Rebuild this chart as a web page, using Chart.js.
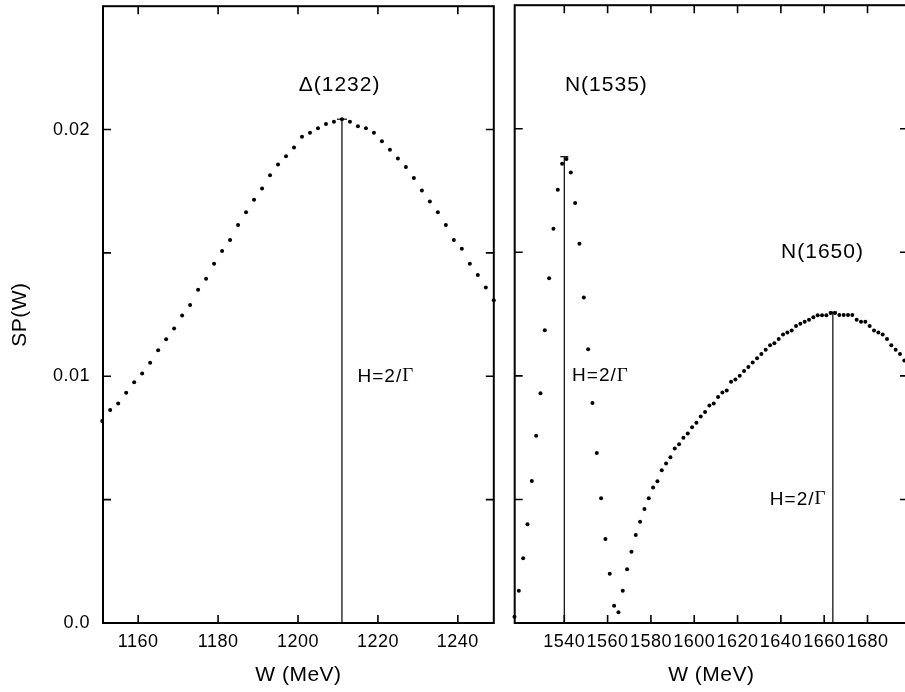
<!DOCTYPE html>
<html><head><meta charset="utf-8">
<script src="https://cdn.jsdelivr.net/npm/chart.js@4/dist/chart.umd.min.js"></script>
<style>
html,body{margin:0;padding:0;background:#fff;overflow:hidden;width:905px;height:692px;}
#lw{position:absolute;left:0;top:0;width:500px;height:692px;}
#rw{position:absolute;left:504px;top:0;width:410px;height:692px;}
</style></head><body>
<div id="lw"><canvas id="left" width="500" height="692"></canvas></div>
<div id="rw"><canvas id="right" width="410" height="692"></canvas></div>
<script>
// ---- data ----
const deltaW = [1151,1153,1155,1157,1159,1161,1163,1165,1167,1169,1171,1173,1175,1177,1179,1181,1183,1185,1187,1189,
  1191,1193,1195,1197,1199,1201,1203,1205,1207,1209,1211,1213,1215,1217,1219,1221,1223,1225,1227,1229,
  1231,1233,1235,1237,1239,1241,1243,1245,1247,1249];
const deltaSP = [0.00819,0.00863,0.00890,0.00933,0.00976,0.01011,0.01055,0.01106,0.01150,0.01194,0.01246,0.01289,0.01351,0.01395,0.01456,0.01508,0.01552,0.01613,0.01665,0.01716,
  0.01761,0.01815,0.01858,0.01892,0.01927,0.01971,0.01987,0.02005,0.02023,0.02032,0.02042,0.02032,0.02013,0.02005,0.01987,0.01953,0.01918,0.01883,0.01848,0.01804,
  0.01753,0.01708,0.01665,0.01613,0.01552,0.01517,0.01456,0.01411,0.01360,0.01308];
const nucW = [1517,1519,1521,1523,1525,1527,1529,1531,1533,1535,1537,1539,1541,1543,1545,1547,1549,1551,1553,1555,
  1557,1559,1561,1563,1565,1567,1569,1571,1573,1575,1577,1579,1581,1583,1585,1587,1589,1591,1593,1595,
  1597,1599,1601,1603,1605,1607,1609,1611,1613,1615,1617,1619,1621,1623,1625,1627,1629,1631,1633,1635,
  1637,1639,1641,1643,1645,1647,1649,1651,1653,1655,1657,1659,1661,1663,1665,1667,1669,1671,1673,1675,
  1677,1679,1681,1683,1685,1687,1689,1691,1693,1695,1697];
const nucSP = [0.00025,0.00130,0.00262,0.00400,0.00575,0.00758,0.00930,0.01185,0.01395,0.01595,0.01753,0.01858,0.01878,0.01823,0.01700,0.01535,0.01317,0.01108,0.00890,0.00688,
  0.00505,0.00340,0.00199,0.00070,0.00043,0.00130,0.00218,0.00288,0.00356,0.00410,0.00461,0.00505,0.00548,0.00574,0.00618,0.00645,0.00671,0.00706,0.00723,0.00750,
  0.00767,0.00792,0.00810,0.00836,0.00854,0.00880,0.00888,0.00915,0.00933,0.00941,0.00976,0.00985,0.01001,0.01020,0.01036,0.01054,0.01071,0.01089,0.01106,0.01124,
  0.01132,0.01149,0.01167,0.01176,0.01184,0.01202,0.01211,0.01219,0.01227,0.01237,0.01245,0.01245,0.01245,0.01254,0.01254,0.01246,0.01246,0.01246,0.01246,0.01227,
  0.01219,0.01219,0.01202,0.01184,0.01176,0.01167,0.01149,0.01124,0.01106,0.01089,0.01062];
const leftPoleW = [1211];
const leftPoleSP = [0.02042];
const rightPoleW = [1540, 1664];
const rightPoleSP = [0.01887, 0.01258];
const yTickValues = [0, 0.005, 0.01, 0.015, 0.02];
const yTickLabels = ['0.0', '', '0.01', '', '0.02'];
const leftXTicks = [1160, 1180, 1200, 1220, 1240];
const rightXTicks = [1540, 1560, 1580, 1600, 1620, 1640, 1660, 1680];
const leftNotes = ['Δ(1232)', 'H=2/Γ'];
const rightNotes = ['N(1535)', 'N(1650)', 'H=2/Γ', 'H=2/Γ'];
const xTitle = 'W (MeV)';
const yTitle = 'SP(W)';

// ---- layout / style ----
const SANS = '"Liberation Sans", Arial, Helvetica, sans-serif';
const SERIF = '"Liberation Serif", "Times New Roman", serif';
const leftNoteAnchors = [
  {x: 1210.4, y: 0.0218, align: 'center', size: 21},
  {x: 1214.9, y: 0.0100, align: 'left', size: 19}
];
const rightNoteAnchors = [
  {x: 1540.3, y: 0.02177, align: 'left', size: 21},
  {x: 1640.1, y: 0.0150, align: 'left', size: 21},
  {x: 1543.6, y: 0.0100, align: 'left', size: 19},
  {x: 1634.9, y: 0.0050, align: 'left', size: 19}
];

const spacing = {
  id: 'spacing',
  beforeDraw(chart) { chart.ctx.letterSpacing = '0.5px'; }
};

const frame = {
  id: 'frame',
  afterDraw(chart) {
    const {ctx, chartArea: {left, right, top, bottom}, scales: {x, y}} = chart;
    ctx.save();
    ctx.strokeStyle = '#000';
    ctx.lineWidth = 2;
    ctx.strokeRect(left, top, right - left, bottom - top);
    ctx.lineWidth = 1.6;
    ctx.beginPath();
    x.ticks.forEach(t => {
      const px = x.getPixelForValue(t.value);
      ctx.moveTo(px, bottom); ctx.lineTo(px, bottom - 8);
      ctx.moveTo(px, top); ctx.lineTo(px, top + 8);
    });
    y.ticks.forEach(t => {
      const py = y.getPixelForValue(t.value);
      ctx.moveTo(left, py); ctx.lineTo(left + 8, py);
      ctx.moveTo(right, py); ctx.lineTo(right - 8, py);
    });
    ctx.stroke();
    ctx.restore();
  }
};

const notes = {
  id: 'notes',
  afterDatasetsDraw(chart, args, opts) {
    const {ctx, scales: {x, y}} = chart;
    ctx.save();
    ctx.fillStyle = '#000';
    ctx.textBaseline = 'middle';
    ctx.letterSpacing = '1px';
    opts.texts.forEach((txt, i) => {
      const a = opts.anchors[i];
      let px = x.getPixelForValue(a.x);
      const py = y.getPixelForValue(a.y);
      const gi = txt.indexOf('Γ');
      ctx.font = a.size + 'px ' + SANS;
      if (gi >= 0) {
        const head = txt.slice(0, gi);
        const w1 = ctx.measureText(head).width;
        ctx.font = a.size + 'px ' + SERIF;
        const w2 = ctx.measureText('Γ').width;
        if (a.align === 'center') px -= (w1 + w2) / 2;
        ctx.font = a.size + 'px ' + SANS;
        ctx.textAlign = 'left';
        ctx.fillText(head, px, py);
        ctx.font = a.size + 'px ' + SERIF;
        ctx.fillText('Γ', px + w1, py);
      } else {
        ctx.textAlign = a.align;
        ctx.fillText(txt, px, py);
      }
    });
    ctx.restore();
  }
};

function dots(ws, sps) {
  return {
    type: 'scatter',
    data: ws.map((w, i) => ({x: w, y: sps[i]})),
    showLine: false,
    pointRadius: 2,
    pointBackgroundColor: '#000',
    pointBorderWidth: 0,
    clip: false
  };
}
function poles(ws, sps, capR) {
  return ws.map((w, i) => ({
    type: 'line',
    data: [{x: w, y: 0}, {x: w, y: sps[i]}],
    borderColor: '#000',
    borderWidth: 1.2,
    pointStyle: 'line',
    pointRadius: [0, capR],
    pointBorderColor: '#000',
    pointBorderWidth: 1.2,
    clip: false
  }));
}

function zeroPad(s) { s.paddingTop = 0; s.paddingBottom = 0; s.paddingLeft = 0; s.paddingRight = 0; }

function xScale(min, max, tickVals, showTitle) {
  return {
    type: 'linear', min, max,
    afterBuildTicks: s => { s.ticks = tickVals.map(v => ({value: v})); },
    afterFit: s => { s.height = 69; zeroPad(s); },
    grid: {display: false, drawTicks: false},
    border: {display: false},
    ticks: {color: '#000', font: {family: SANS, size: 18}, padding: 8, maxRotation: 0, autoSkip: false,
            callback: v => String(v)},
    title: {display: showTitle, text: xTitle, color: '#000', font: {family: SANS, size: 21}, padding: {top: 0, bottom: 4.4}}
  };
}
function yScale(width, showLabels) {
  return {
    type: 'linear', min: 0, max: 0.025,
    afterBuildTicks: s => { s.ticks = yTickValues.map(v => ({value: v})); },
    afterFit: s => { s.width = width; zeroPad(s); },
    grid: {display: false, drawTicks: false},
    border: {display: false},
    ticks: {display: showLabels, color: '#000', font: {family: SANS, size: 18}, padding: 13,
            callback: (v, i) => yTickLabels[i]},
    title: {display: showLabels, text: yTitle, color: '#000', font: {family: SANS, size: 21}, padding: {top: 7.4, bottom: 0}}
  };
}

const common = {
  responsive: false,
  animation: false,
  events: [],
  plugins: {legend: {display: false}, tooltip: {enabled: false}}
};

new Chart(document.getElementById('left'), {
  type: 'scatter',
  data: {datasets: [dots(deltaW, deltaSP), ...poles(leftPoleW, leftPoleSP, 5)]},
  options: Object.assign({}, common, {
    layout: {padding: {top: 4, right: 2, left: 0, bottom: 0}},
    scales: {x: xScale(1151.2, 1249, leftXTicks, true), y: yScale(103, true)},
    plugins: Object.assign({}, common.plugins, {notes: {texts: leftNotes, anchors: leftNoteAnchors}})
  }),
  plugins: [spacing, frame, notes]
});

new Chart(document.getElementById('right'), {
  type: 'scatter',
  data: {datasets: [dots(nucW, nucSP), ...poles(rightPoleW, rightPoleSP, 4)]},
  options: Object.assign({}, common, {
    layout: {padding: {top: 4, right: 6, left: 0, bottom: 0}},
    scales: {x: xScale(1517.1, 1698.7, rightXTicks, true), y: yScale(10.7, false)},
    plugins: Object.assign({}, common.plugins, {notes: {texts: rightNotes, anchors: rightNoteAnchors}})
  }),
  plugins: [spacing, frame, notes]
});
</script>
</body></html>
